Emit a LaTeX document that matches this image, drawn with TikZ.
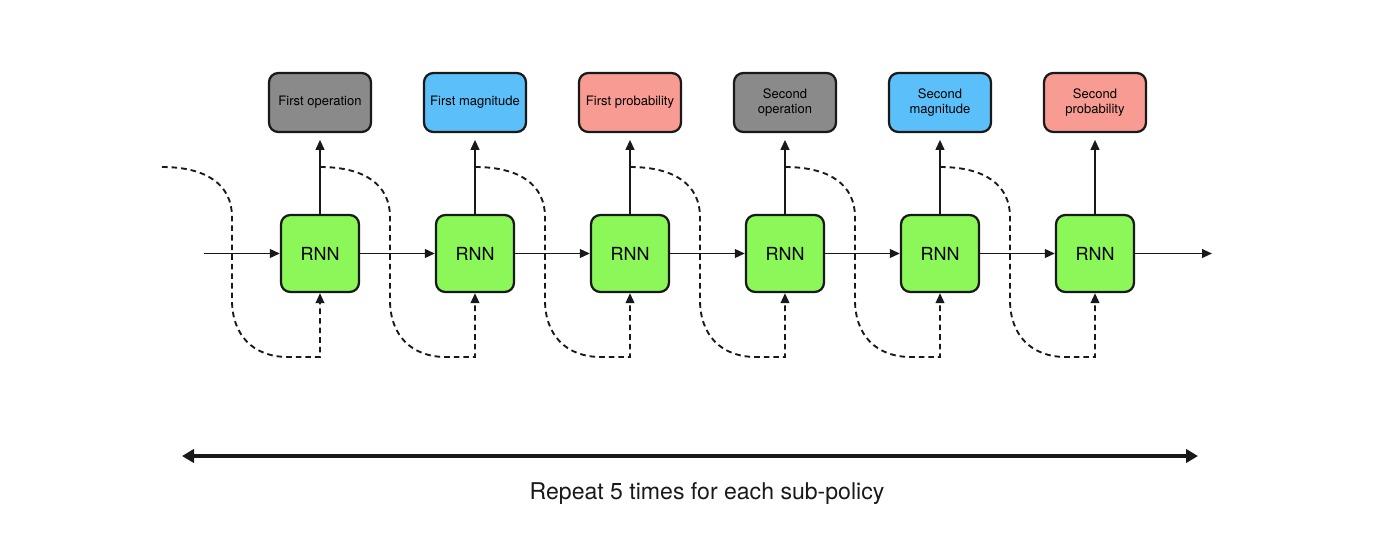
\documentclass[tikz,border=0pt]{standalone}
\usepackage{fontspec}
\setmainfont{TeX Gyre Heros}
\usetikzlibrary{arrows.meta}

\definecolor{rnngreen}{RGB}{139,247,88}
\definecolor{opgray}{RGB}{138,138,138}
\definecolor{magblue}{RGB}{91,192,249}
\definecolor{probred}{RGB}{248,155,146}
\definecolor{edge}{RGB}{25,25,25}

\tikzset{every picture/.style={line width=0.75pt}}
\tikzset{
  rnnbox/.style={draw=edge,line width=1.7pt,rounded corners=7pt,fill=rnngreen,minimum width=58.5pt,minimum height=57.75pt,inner sep=0pt,font=\fontsize{13.5}{16}\selectfont},
  outbox/.style={draw=edge,line width=1.7pt,rounded corners=7pt,minimum width=76.5pt,minimum height=44.25pt,inner sep=0pt,align=center,font=\fontsize{9.75}{11.25}\selectfont},
  flow/.style={draw=edge,line width=1.4pt,-{Triangle[length=7.5pt,width=6.5pt]}},
  feedback/.style={draw=edge,line width=1.4pt,dash pattern={on 4.2pt off 3pt},-{Triangle[length=7.5pt,width=6.5pt]}}
}

\begin{document}
\begin{tikzpicture}[x=0.75pt,y=0.75pt,yscale=-1,xscale=1]
%set diagram left start at 0, and has height of 554
\useasboundingbox (0,0) rectangle (1400,554);

%Shape: Rounded Rect [RNN cells]
\draw (320,253.5) node [rnnbox] (rnn1) {RNN};
\draw (475,253.5) node [rnnbox] (rnn2) {RNN};
\draw (630,253.5) node [rnnbox] (rnn3) {RNN};
\draw (785,253.5) node [rnnbox] (rnn4) {RNN};
\draw (940,253.5) node [rnnbox] (rnn5) {RNN};
\draw (1095,253.5) node [rnnbox] (rnn6) {RNN};

%Shape: Rounded Rect [outputs]
\draw (320,102.5) node [outbox,fill=opgray] (out1) {First operation};
\draw (475,102.5) node [outbox,fill=magblue] (out2) {First magnitude};
\draw (630,102.5) node [outbox,fill=probred] (out3) {First probability};
\draw (785,102.5) node [outbox,fill=opgray] (out4) {Second\\operation};
\draw (940,102.5) node [outbox,fill=magblue] (out5) {Second\\magnitude};
\draw (1095,102.5) node [outbox,fill=probred] (out6) {Second\\probability};

\coordinate (in) at (204,253.5);
\coordinate (out) at (1212,253.5);
\coordinate (tap0) at (162,167);
\coordinate (tap1) at (320,167);
\coordinate (tap2) at (475,167);
\coordinate (tap3) at (630,167);
\coordinate (tap4) at (785,167);
\coordinate (tap5) at (940,167);

%Straight Lines
\draw [flow] (in) -- (rnn1.west);
\draw [flow] (rnn1.east) -- (rnn2.west);
\draw [flow] (rnn2.east) -- (rnn3.west);
\draw [flow] (rnn3.east) -- (rnn4.west);
\draw [flow] (rnn4.east) -- (rnn5.west);
\draw [flow] (rnn5.east) -- (rnn6.west);
\draw [flow] (rnn6.east) -- (out);

%Straight Lines [up to outputs]
\draw [flow,shorten >=5pt] (rnn1.north) -- (out1.south);
\draw [flow,shorten >=5pt] (rnn2.north) -- (out2.south);
\draw [flow,shorten >=5pt] (rnn3.north) -- (out3.south);
\draw [flow,shorten >=5pt] (rnn4.north) -- (out4.south);
\draw [flow,shorten >=5pt] (rnn5.north) -- (out5.south);
\draw [flow,shorten >=5pt] (rnn6.north) -- (out6.south);

%Curve Lines [fed back]
\draw [feedback] (tap0) .. controls (207,167) and (232,185) .. (232,217) -- (232,300) .. controls (232,335) and (253,357) .. (288,357) -| (rnn1.south);
\draw [feedback] (tap1) .. controls (365,167) and (390,185) .. (390,217) -- (390,300) .. controls (390,335) and (411,357) .. (446,357) -| (rnn2.south);
\draw [feedback] (tap2) .. controls (520,167) and (545,185) .. (545,217) -- (545,300) .. controls (545,335) and (566,357) .. (601,357) -| (rnn3.south);
\draw [feedback] (tap3) .. controls (675,167) and (700,185) .. (700,217) -- (700,300) .. controls (700,335) and (721,357) .. (756,357) -| (rnn4.south);
\draw [feedback] (tap4) .. controls (830,167) and (855,185) .. (855,217) -- (855,300) .. controls (855,335) and (876,357) .. (911,357) -| (rnn5.south);
\draw [feedback] (tap5) .. controls (985,167) and (1010,185) .. (1010,217) -- (1010,300) .. controls (1010,335) and (1031,357) .. (1066,357) -| (rnn6.south);

%Straight Lines [repeat span]
\coordinate (spanl) at (182,456);
\coordinate (spanr) at (1198,456);
\draw [draw=edge,line width=2.8pt,{Triangle[length=9pt,width=10pt]}-{Triangle[length=9pt,width=10pt]}] (spanl) -- (spanr);

% Text Node
\draw (707,494) node [font=\fontsize{17.3}{20}\selectfont,text=edge] (label) {Repeat 5 times for each sub-policy};

\end{tikzpicture}
\end{document}
